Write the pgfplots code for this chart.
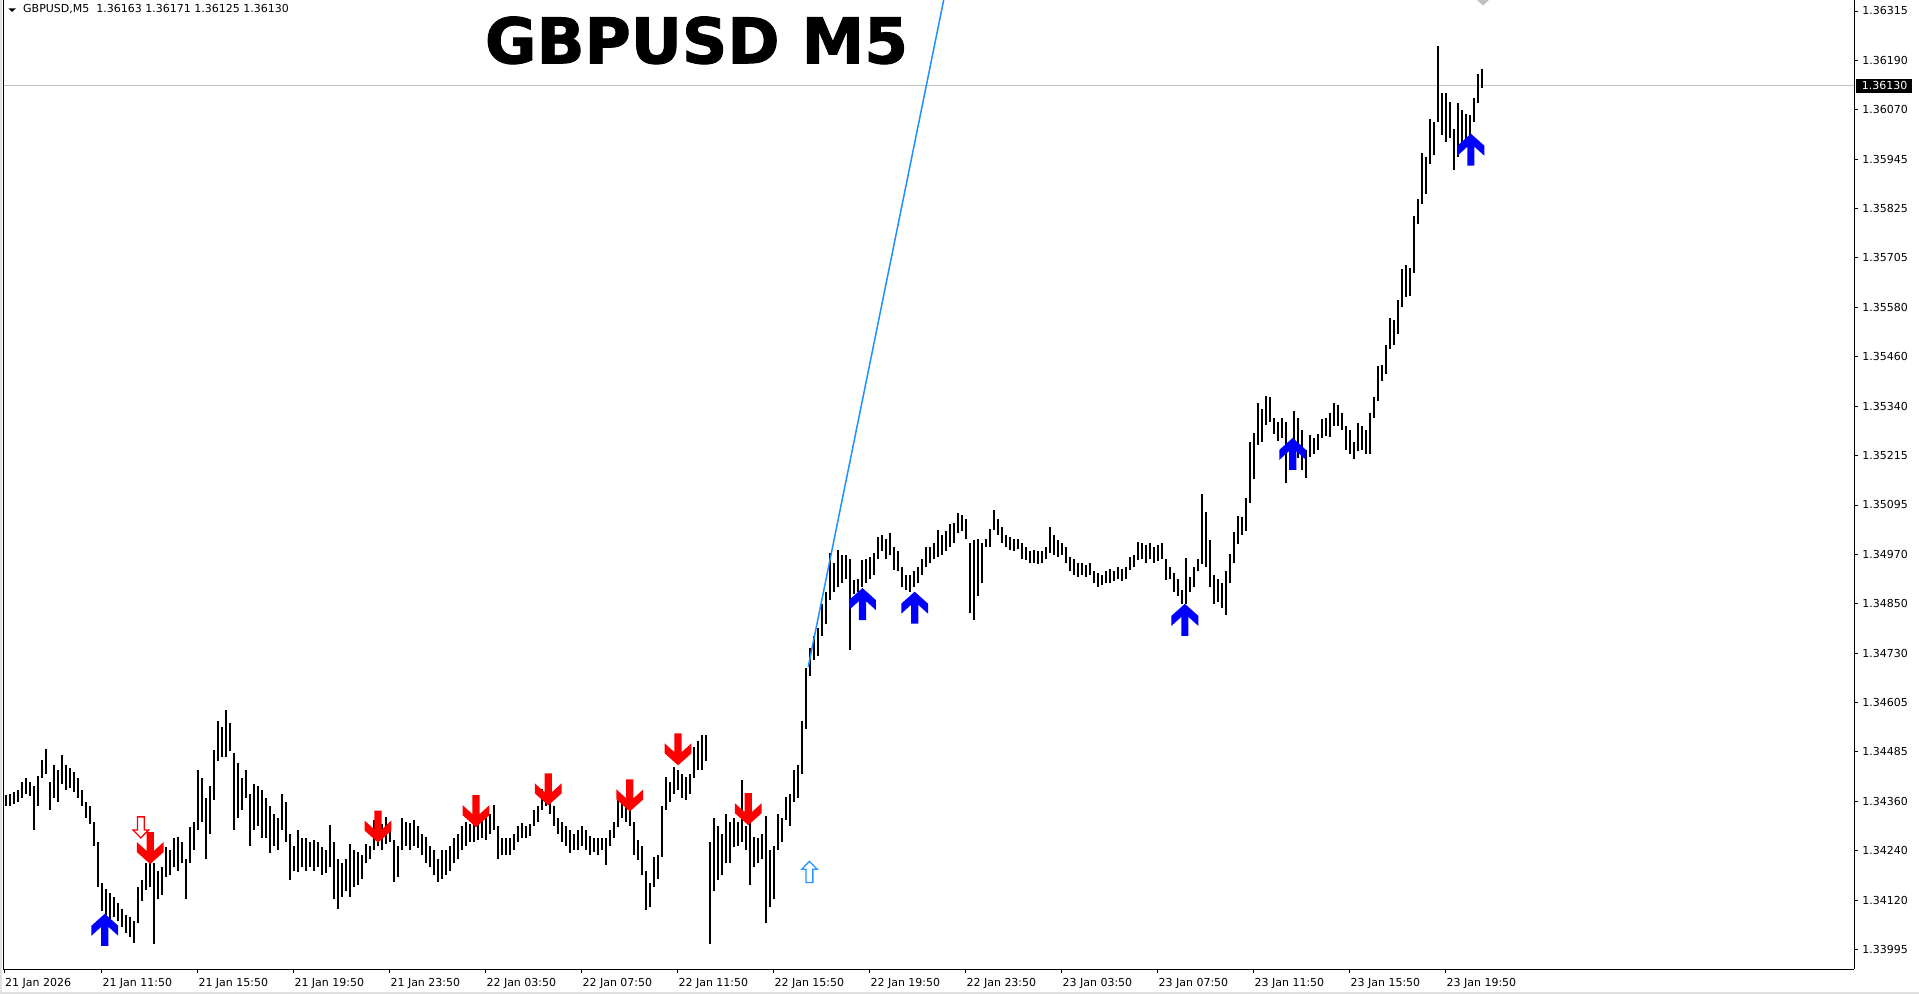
\documentclass[border=0pt]{standalone}
\usepackage{fontspec}
\setmainfont{DejaVu Sans}
\newfontfamily\titlefont{DejaVu Sans Bold}[FakeBold=1.5]
\usepackage{pgfplots}
\pgfplotsset{compat=1.18}
\usepackage{pgfplotstable}
\definecolor{arrowblue}{RGB}{0,0,255}
\definecolor{arrowred}{RGB}{255,0,0}
\definecolor{dodger}{RGB}{30,144,255}
\definecolor{hollowblue}{RGB}{40,150,255}
\definecolor{pricegray}{RGB}{192,192,192}
\definecolor{framegray}{RGB}{225,225,225}

\pgfdeclareplotmark{dnarrow}{%
 \pgfpathmoveto{\pgfqpoint{-3.6pt}{16pt}}%
 \pgfpathlineto{\pgfqpoint{3.6pt}{16pt}}%
 \pgfpathlineto{\pgfqpoint{3.6pt}{-2.9pt}}%
 \pgfpathlineto{\pgfqpoint{13.4pt}{6pt}}%
 \pgfpathlineto{\pgfqpoint{13.4pt}{-4pt}}%
 \pgfpathlineto{\pgfqpoint{0pt}{-16pt}}%
 \pgfpathlineto{\pgfqpoint{-13.4pt}{-4pt}}%
 \pgfpathlineto{\pgfqpoint{-13.4pt}{6pt}}%
 \pgfpathlineto{\pgfqpoint{-3.6pt}{-2.9pt}}%
 \pgfpathclose\pgfusepathqfill}
\pgfdeclareplotmark{uparrow}{%
 \pgfpathmoveto{\pgfqpoint{-3.6pt}{-16pt}}%
 \pgfpathlineto{\pgfqpoint{3.6pt}{-16pt}}%
 \pgfpathlineto{\pgfqpoint{3.6pt}{2.9pt}}%
 \pgfpathlineto{\pgfqpoint{13.4pt}{-6pt}}%
 \pgfpathlineto{\pgfqpoint{13.4pt}{4pt}}%
 \pgfpathlineto{\pgfqpoint{0pt}{16pt}}%
 \pgfpathlineto{\pgfqpoint{-13.4pt}{4pt}}%
 \pgfpathlineto{\pgfqpoint{-13.4pt}{-6pt}}%
 \pgfpathlineto{\pgfqpoint{-3.6pt}{2.9pt}}%
 \pgfpathclose\pgfusepathqfill}
\pgfdeclareplotmark{hdnarrow}{%
 \pgfpathmoveto{\pgfqpoint{-3.4pt}{10.5pt}}%
 \pgfpathlineto{\pgfqpoint{3.4pt}{10.5pt}}%
 \pgfpathlineto{\pgfqpoint{3.4pt}{-2.6pt}}%
 \pgfpathlineto{\pgfqpoint{7.8pt}{-2.6pt}}%
 \pgfpathlineto{\pgfqpoint{0pt}{-10.5pt}}%
 \pgfpathlineto{\pgfqpoint{-7.8pt}{-2.6pt}}%
 \pgfpathlineto{\pgfqpoint{-3.4pt}{-2.6pt}}%
 \pgfpathclose\pgfusepathqfillstroke}
\pgfdeclareplotmark{huparrow}{%
 \pgfpathmoveto{\pgfqpoint{-3.4pt}{-10.5pt}}%
 \pgfpathlineto{\pgfqpoint{3.4pt}{-10.5pt}}%
 \pgfpathlineto{\pgfqpoint{3.4pt}{2.6pt}}%
 \pgfpathlineto{\pgfqpoint{7.8pt}{2.6pt}}%
 \pgfpathlineto{\pgfqpoint{0pt}{10.5pt}}%
 \pgfpathlineto{\pgfqpoint{-7.8pt}{2.6pt}}%
 \pgfpathlineto{\pgfqpoint{-3.4pt}{2.6pt}}%
 \pgfpathclose\pgfusepathqfillstroke}

\pgfplotstableread{
i lo hi
94 1.34350 1.34376
96 1.34350 1.34380
98 1.34355 1.34385
100 1.34360 1.34390
102 1.34370 1.34410
104 1.34380 1.34420
106 1.34375 1.34410
108 1.34290 1.34400
110 1.34350 1.34425
112 1.34420 1.34463
114 1.34430 1.34490
116 1.34340 1.34410
118 1.34370 1.34450
120 1.34360 1.34440
122 1.34405 1.34475
124 1.34390 1.34450
126 1.34395 1.34445
128 1.34385 1.34435
130 1.34370 1.34420
132 1.34350 1.34390
134 1.34320 1.34360
136 1.34305 1.34350
138 1.34250 1.34310
140 1.34150 1.34260
142 1.34090 1.34160
144 1.34080 1.34145
146 1.34070 1.34135
148 1.34075 1.34125
150 1.34065 1.34110
152 1.34050 1.34095
154 1.34035 1.34080
156 1.34025 1.34075
158 1.34012 1.34065
160 1.34060 1.34150
162 1.34115 1.34166
164 1.34142 1.34208
166 1.34150 1.34210
168 1.34010 1.34210
170 1.34120 1.34190
172 1.34130 1.34200
174 1.34175 1.34249
176 1.34180 1.34240
178 1.34200 1.34270
180 1.34190 1.34274
182 1.34210 1.34260
184 1.34120 1.34220
186 1.34210 1.34298
188 1.34240 1.34310
190 1.34290 1.34438
192 1.34310 1.34420
194 1.34220 1.34370
196 1.34280 1.34400
198 1.34364 1.34488
200 1.34460 1.34560
202 1.34470 1.34545
204 1.34470 1.34587
206 1.34485 1.34555
208 1.34290 1.34480
210 1.34320 1.34455
212 1.34340 1.34420
214 1.34370 1.34440
216 1.34250 1.34380
218 1.34290 1.34405
220 1.34300 1.34400
222 1.34270 1.34390
224 1.34270 1.34370
226 1.34233 1.34350
228 1.34250 1.34330
230 1.34240 1.34320
232 1.34290 1.34380
234 1.34260 1.34360
236 1.34166 1.34280
238 1.34190 1.34250
240 1.34187 1.34290
242 1.34200 1.34270
244 1.34190 1.34270
246 1.34200 1.34260
248 1.34190 1.34265
250 1.34200 1.34260
252 1.34180 1.34249
254 1.34185 1.34240
256 1.34200 1.34303
258 1.34120 1.34260
260 1.34096 1.34220
262 1.34125 1.34210
264 1.34140 1.34220
266 1.34125 1.34257
268 1.34150 1.34240
270 1.34155 1.34235
272 1.34170 1.34230
274 1.34208 1.34257
276 1.34220 1.34250
278 1.34240 1.34315
280 1.34250 1.34300
282 1.34240 1.34305
284 1.34255 1.34323
286 1.34260 1.34310
288 1.34162 1.34265
290 1.34175 1.34250
292 1.34240 1.34320
294 1.34250 1.34310
296 1.34240 1.34307
298 1.34250 1.34315
300 1.34245 1.34300
302 1.34230 1.34280
304 1.34210 1.34274
306 1.34200 1.34250
308 1.34180 1.34240
310 1.34162 1.34220
312 1.34170 1.34240
314 1.34180 1.34240
316 1.34190 1.34250
318 1.34210 1.34270
320 1.34220 1.34280
322 1.34240 1.34300
324 1.34250 1.34310
326 1.34260 1.34305
328 1.34260 1.34310
330 1.34265 1.34310
332 1.34270 1.34323
334 1.34265 1.34320
336 1.34280 1.34330
338 1.34290 1.34352
340 1.34220 1.34300
342 1.34230 1.34270
344 1.34228 1.34270
346 1.34230 1.34270
348 1.34240 1.34280
350 1.34260 1.34300
352 1.34270 1.34307
354 1.34270 1.34300
356 1.34275 1.34305
358 1.34300 1.34340
360 1.34310 1.34350
362 1.34340 1.34393
364 1.34350 1.34390
366 1.34330 1.34370
368 1.34300 1.34350
370 1.34280 1.34320
372 1.34260 1.34310
374 1.34250 1.34300
376 1.34233 1.34290
378 1.34240 1.34280
380 1.34240 1.34290
382 1.34250 1.34300
384 1.34240 1.34290
386 1.34230 1.34275
388 1.34235 1.34270
390 1.34230 1.34270
392 1.34240 1.34270
394 1.34203 1.34270
396 1.34250 1.34290
398 1.34270 1.34310
400 1.34298 1.34364
402 1.34320 1.34360
404 1.34310 1.34355
406 1.34300 1.34340
408 1.34230 1.34310
410 1.34216 1.34265
412 1.34180 1.34250
414 1.34092 1.34190
416 1.34100 1.34160
418 1.34150 1.34224
420 1.34170 1.34230
422 1.34224 1.34350
424 1.34340 1.34422
426 1.34360 1.34410
428 1.34380 1.34447
430 1.34390 1.34440
432 1.34370 1.34430
434 1.34364 1.34422
436 1.34380 1.34430
438 1.34420 1.34496
440 1.34440 1.34510
442 1.34438 1.34525
444 1.34460 1.34525
446 1.34010 1.34260
448 1.34140 1.34320
450 1.34166 1.34300
452 1.34180 1.34280
454 1.34208 1.34330
456 1.34210 1.34310
458 1.34249 1.34320
460 1.34250 1.34310
462 1.34260 1.34414
464 1.34240 1.34300
466 1.34154 1.34307
468 1.34200 1.34274
470 1.34210 1.34270
472 1.34220 1.34280
474 1.34060 1.34325
476 1.34100 1.34240
478 1.34120 1.34250
480 1.34240 1.34330
482 1.34260 1.34320
484 1.34315 1.34373
486 1.34300 1.34380
488 1.34360 1.34438
490 1.34370 1.34450
492 1.34430 1.34560
494 1.34540 1.34690
496 1.34670 1.34740
498 1.34710 1.34770
500 1.34720 1.34790
502 1.34770 1.34850
504 1.34800 1.34880
506 1.34860 1.34974
508 1.34880 1.34950
510 1.34892 1.34982
512 1.34900 1.34970
514 1.34910 1.34970
516 1.34735 1.34960
518 1.34875 1.34908
520 1.34880 1.34910
522 1.34892 1.34958
524 1.34900 1.34960
526 1.34910 1.34966
528 1.34920 1.34975
530 1.34960 1.35015
532 1.34980 1.35020
534 1.34960 1.35010
536 1.34970 1.35025
538 1.34933 1.34990
540 1.34930 1.34980
542 1.34890 1.34940
544 1.34883 1.34920
546 1.34880 1.34920
548 1.34890 1.34930
550 1.34900 1.34940
552 1.34920 1.34960
554 1.34940 1.34990
556 1.34950 1.34990
558 1.34960 1.35000
560 1.34966 1.35032
562 1.34970 1.35020
564 1.34980 1.35030
566 1.34990 1.35048
568 1.35000 1.35050
570 1.35024 1.35073
572 1.35030 1.35070
574 1.35010 1.35060
576 1.34826 1.35000
578 1.34810 1.35007
580 1.34870 1.35010
582 1.34900 1.35000
584 1.34990 1.35010
586 1.34990 1.35035
588 1.35032 1.35081
590 1.35020 1.35060
592 1.35000 1.35040
594 1.34990 1.35020
596 1.34982 1.35015
598 1.34980 1.35010
600 1.34985 1.35010
602 1.34960 1.34999
604 1.34958 1.34990
606 1.34950 1.34980
608 1.34950 1.34982
610 1.34949 1.34980
612 1.34950 1.34980
614 1.34960 1.34990
616 1.34974 1.35040
618 1.34970 1.35020
620 1.34966 1.35007
622 1.34970 1.35000
624 1.34950 1.34990
626 1.34930 1.34966
628 1.34920 1.34960
630 1.34916 1.34950
632 1.34920 1.34950
634 1.34916 1.34945
636 1.34920 1.34950
638 1.34900 1.34930
640 1.34892 1.34925
642 1.34895 1.34920
644 1.34900 1.34930
646 1.34900 1.34935
648 1.34905 1.34930
650 1.34910 1.34940
652 1.34905 1.34935
654 1.34910 1.34940
656 1.34933 1.34966
658 1.34940 1.34970
660 1.34958 1.35003
662 1.34960 1.35000
664 1.34950 1.34995
666 1.34960 1.35000
668 1.34950 1.34990
670 1.34955 1.34995
672 1.34960 1.35000
674 1.34908 1.34960
676 1.34910 1.34940
678 1.34880 1.34925
680 1.34870 1.34910
682 1.34850 1.34883
684 1.34850 1.34964
686 1.34880 1.34915
688 1.34890 1.34940
690 1.34930 1.34960
692 1.34949 1.35120
694 1.34940 1.35076
696 1.34890 1.35008
698 1.34850 1.34920
700 1.34855 1.34910
702 1.34840 1.34900
704 1.34822 1.34930
706 1.34900 1.34973
708 1.34950 1.35027
710 1.34998 1.35066
712 1.35020 1.35065
714 1.35030 1.35110
716 1.35100 1.35250
718 1.35159 1.35271
720 1.35242 1.35345
722 1.35250 1.35330
724 1.35291 1.35364
726 1.35300 1.35360
728 1.35270 1.35310
730 1.35252 1.35300
732 1.35260 1.35310
734 1.35149 1.35300
736 1.35213 1.35252
738 1.35242 1.35325
740 1.35210 1.35310
742 1.35180 1.35280
744 1.35160 1.35230
746 1.35213 1.35267
748 1.35220 1.35260
750 1.35230 1.35270
752 1.35260 1.35306
754 1.35265 1.35310
756 1.35262 1.35320
758 1.35290 1.35345
760 1.35290 1.35340
762 1.35280 1.35320
764 1.35230 1.35290
766 1.35220 1.35280
768 1.35208 1.35250
770 1.35228 1.35296
772 1.35230 1.35290
774 1.35220 1.35280
776 1.35220 1.35320
778 1.35310 1.35360
780 1.35350 1.35438
782 1.35400 1.35440
784 1.35418 1.35490
786 1.35480 1.35555
788 1.35490 1.35550
790 1.35516 1.35600
792 1.35584 1.35677
794 1.35609 1.35687
796 1.35610 1.35680
798 1.35667 1.35809
800 1.35789 1.35850
802 1.35838 1.35965
804 1.35863 1.35955
806 1.35936 1.36048
808 1.35960 1.36040
810 1.36040 1.36229
812 1.36009 1.36112
814 1.35990 1.36112
816 1.36000 1.36090
818 1.35921 1.36024
820 1.35955 1.36087
822 1.35980 1.36070
824 1.35990 1.36060
826 1.36009 1.36058
828 1.36040 1.36100
830 1.36087 1.36160
832 1.36125 1.36171
}\bars

\begin{document}
\begin{tikzpicture}[x=1pt,y=1pt]
\path[use as bounding box] (0,0) rectangle (1919,994);
\fill[white] (0,0) rectangle (1919,994);
\fill[framegray] (0,0) rectangle (1919,2);
\fill[framegray] (0,0) rectangle (1.5,994);
\begin{axis}[
  at={(3pt,25pt)}, anchor=south west,
  scale only axis, width=1851pt, height=969pt,
  xmin=92.6, xmax=1018.1, ymin=1.33947, ymax=1.36342,
  axis x line*=bottom, axis y line*=right,
  axis line style={black, line width=0.9pt},
  tick align=outside, major tick length=4pt,
  tick style={black, line width=0.8pt},
  xtick={93.35,142,190,238,286,334,382,430,478,526,574,622,670,718,766,814},
  xticklabels={21 Jan 2026, 21 Jan 11:50, 21 Jan 15:50, 21 Jan 19:50, 21 Jan 23:50, 22 Jan 03:50, 22 Jan 07:50, 22 Jan 11:50, 22 Jan 15:50, 22 Jan 19:50, 22 Jan 23:50, 23 Jan 03:50, 23 Jan 07:50, 23 Jan 11:50, 23 Jan 15:50, 23 Jan 19:50},
  ytick={1.33995,1.34117,1.34239,1.34361,1.34484,1.34606,1.34728,1.34850,1.34972,1.35094,1.35216,1.35338,1.35460,1.35582,1.35705,1.35827,1.35949,1.36071,1.36193,1.36315},
  yticklabels={1.33995,1.34120,1.34240,1.34360,1.34485,1.34605,1.34730,1.34850,1.34970,1.35095,1.35215,1.35340,1.35460,1.35580,1.35705,1.35825,1.35945,1.36070,1.36190,1.36315},
  ticklabel style={font=\fontsize{11}{13}\selectfont, text=black},
  xticklabel style={anchor=base west, inner sep=0pt, xshift=0.5pt, yshift=-13pt},
  yticklabel style={anchor=west, inner sep=0pt, xshift=4pt},
  clip=true,
]
\addplot[pricegray, line width=0.8pt, forget plot] coordinates {(92.6,1.36130) (1018.1,1.36130)};
\addplot[draw=none, mark=none, forget plot,
  error bars/.cd, y dir=plus, y explicit, error mark=none,
  error bar style={draw=black, line width=1.7pt}]
  table[x=i, y=lo, y error plus expr=\thisrow{hi}-\thisrow{lo}] {\bars};
\addplot[dodger, line width=1.5pt, forget plot] coordinates {(495.2,1.34694) (575,1.36636)};
\addplot[only marks, mark=uparrow, arrowblue, mark options={fill=arrowblue, draw=none}] coordinates {
 (143.5,1.34044) (522.3,1.34849) (548.4,1.34840) (683.5,1.34810) (737.4,1.35220) (826.5,1.35972)};
\addplot[only marks, mark=dnarrow, arrowred, mark options={fill=arrowred, draw=none}] coordinates {
 (166.2,1.34246) (280.1,1.34299) (329.1,1.34337) (365.2,1.34391) (406,1.34376) (430.1,1.34490) (465.2,1.34342)};
\addplot[only marks, mark=hdnarrow, arrowred, mark options={fill=white, draw=arrowred, line width=1.3pt}] coordinates {(161.5,1.34297)};
\addplot[only marks, mark=huparrow, hollowblue, mark options={fill=white, draw=hollowblue, line width=1.3pt}] coordinates {(495.8,1.34187)};
\end{axis}
\draw[black, line width=0.9pt] (3,25) -- (3,994);
\fill[pricegray] (1477,994) -- (1489,994) -- (1483,988.5) -- cycle;
\fill[black] (1856,901.3) rectangle (1912,914.7);
\node[anchor=west, inner sep=0pt, text=white, font=\fontsize{11}{13}\selectfont] at (1861.7,908) {1.36130};
\fill[black] (8.3,985.7) -- (16,985.7) -- (12.15,982) -- cycle;
\node[anchor=base west, inner sep=0pt, font=\fontsize{11}{13}\selectfont] at (23,981.5) {GBPUSD,M5\ \ 1.36163 1.36171 1.36125 1.36130};
\node[inner sep=0pt, font=\fontsize{63}{70}\titlefont] at (696.5,953.6) {GBPUSD M5};
\end{tikzpicture}
\end{document}
